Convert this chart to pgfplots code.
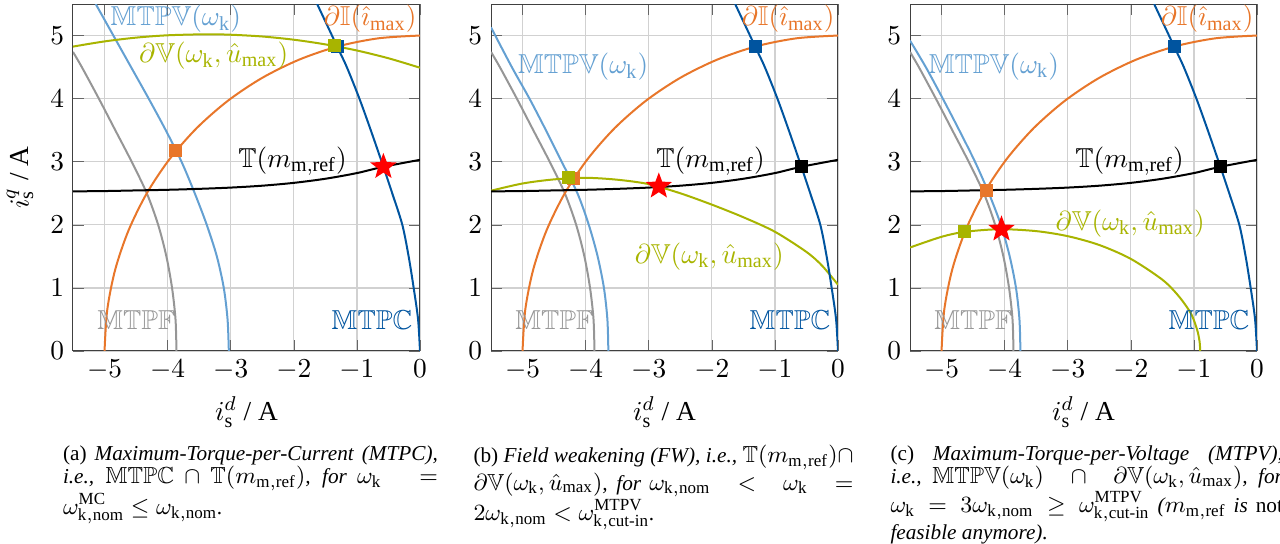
\RequirePackage{fix-cm}
\documentclass[border=0pt]{standalone}
\usepackage{fontspec}
\setmainfont{Liberation Serif}
\usepackage{amsmath,amssymb}
\usepackage{pgfplots}
\pgfplotsset{compat=1.18}
\DeclareMathSizes{8.5}{9.3}{6.8}{5.2}
\definecolor{cMTPC}{RGB}{0,84,159}
\definecolor{cMTPV}{RGB}{100,160,210}
\definecolor{cI}{RGB}{232,118,42}
\definecolor{cV}{RGB}{168,180,0}
\definecolor{cF}{RGB}{150,150,150}
\pgfdeclareplotmark{fstar}{%
 \pgfpathmoveto{\pgfpointpolar{90}{\pgfplotmarksize}}%
 \pgfpathlineto{\pgfpointpolar{126}{0.42\pgfplotmarksize}}%
 \pgfpathlineto{\pgfpointpolar{162}{\pgfplotmarksize}}%
 \pgfpathlineto{\pgfpointpolar{198}{0.42\pgfplotmarksize}}%
 \pgfpathlineto{\pgfpointpolar{234}{\pgfplotmarksize}}%
 \pgfpathlineto{\pgfpointpolar{270}{0.42\pgfplotmarksize}}%
 \pgfpathlineto{\pgfpointpolar{306}{\pgfplotmarksize}}%
 \pgfpathlineto{\pgfpointpolar{342}{0.42\pgfplotmarksize}}%
 \pgfpathlineto{\pgfpointpolar{18}{\pgfplotmarksize}}%
 \pgfpathlineto{\pgfpointpolar{54}{0.42\pgfplotmarksize}}%
 \pgfpathclose\pgfusepathqfillstroke}
\pgfplotsset{panel/.style={width=138.8pt,height=138.8pt,scale only axis,
  xmin=-5.5,xmax=0,ymin=0,ymax=5.5,xtick={-5,-4,-3,-2,-1,0},ytick={0,1,2,3,4,5},
  grid=major,grid style={black!18,line width=0.5pt},axis line style={black!75},
  tick style={black!60},clip mode=individual,
  tick label style={font=\fontsize{10.95}{13}\selectfont},
  label style={font=\fontsize{10.95}{13}\selectfont},
  every axis plot/.append style={line width=0.8pt,smooth},
  xlabel={$i_{\mathrm{s}}^{d}$ / A}},
  sq/.style={only marks,mark=square*,mark size=2.2pt,mark options={solid}},
  st/.style={only marks,mark=fstar,mark size=4.4pt,color=red}}
\tikzset{lab/.style={font=\fontsize{10.95}{13}\selectfont}}
\newcommand{\mtpc}{\addplot[cMTPC] coordinates {(0,0) (-0.03,0.5) (-0.1,1) (-0.18,1.5) (-0.28,2) (-0.44,2.5) (-0.58,2.92) (-0.78,3.5) (-0.96,4) (-1.16,4.5) (-1.31,4.82) (-1.63,5.5)};}
\newcommand{\circI}{\addplot[cI] coordinates {(-5,0) (-4.957,0.653) (-4.830,1.294) (-4.619,1.913) (-4.330,2.5) (-3.967,3.044) (-3.536,3.536) (-3.044,3.967) (-2.5,4.330) (-1.913,4.619) (-1.294,4.830) (-0.653,4.957) (0,5)};}
\newcommand{\torque}{\addplot[black] coordinates {(-5.5,2.53) (-5,2.535) (-4.5,2.545) (-4,2.555) (-3.5,2.57) (-3,2.59) (-2.5,2.62) (-2,2.665) (-1.5,2.73) (-1,2.82) (-0.58,2.92) (0,3.03)};}
\newcommand{\mtpf}{\addplot[cF] coordinates {(-3.86,0) (-3.875,0.5) (-3.93,1) (-4.02,1.5) (-4.15,2) (-4.33,2.5) (-4.57,3) (-4.83,3.5) (-5.09,4) (-5.36,4.5) (-5.5,4.74)};}
\newcommand{\labels}{%
 \node[lab,cI] at (axis cs:-0.79,5.26) {$\partial\mathbb{I}(\hat{\imath}_{\max})$};
 \node[lab,black] at (axis cs:-2.02,3.01) {$\mathbb{T}(m_{\mathrm{m,ref}})$};
 \node[lab,cF] at (axis cs:-4.5,0.49) {$\mathbb{MTPF}$};
 \node[lab,cMTPC] at (axis cs:-0.76,0.49) {$\mathbb{MTPC}$};}
\begin{document}
\begin{tikzpicture}[x=1pt,y=1pt]
\useasboundingbox (0,0) rectangle (512,-217.2);
% ---------- (a)
\begin{axis}[panel,at={(29.2pt,-1.6pt)},anchor=north west,ylabel={$i_{\mathrm{s}}^{q}$ / A}]
\mtpf
\addplot[cMTPV] coordinates {(-3.03,0) (-3.05,0.5) (-3.11,1) (-3.22,1.5) (-3.38,2) (-3.57,2.5) (-3.78,3) (-4.03,3.5) (-4.3,4) (-4.58,4.5) (-4.86,5) (-5.14,5.5)};
\circI
\addplot[cV] coordinates {(-5.5,4.825) (-5,4.907) (-4.5,4.967) (-4,5.004) (-3.4,5.02) (-3,5.013) (-2.5,4.985) (-2,4.934) (-1.5,4.86) (-1,4.763) (-0.5,4.64) (0,4.49)};
\torque
\mtpc
\addplot[sq,cI] coordinates {(-3.87,3.17)};
\addplot[sq,cMTPC] coordinates {(-1.31,4.82)};
\addplot[sq,cV] coordinates {(-1.36,4.845)};
\addplot[st] coordinates {(-0.58,2.92)};
\labels
\node[lab,cMTPV] at (axis cs:-3.87,5.26) {$\mathbb{MTPV}(\omega_{\mathrm{k}})$};
\node[lab,cV] at (axis cs:-3.27,4.68) {$\partial\mathbb{V}(\omega_{\mathrm{k}},\hat{u}_{\max})$};
\end{axis}
% ---------- (b)
\begin{axis}[panel,at={(196.4pt,-1.6pt)},anchor=north west]
\mtpf
\addplot[cMTPV] coordinates {(-3.64,0) (-3.655,0.5) (-3.71,1) (-3.81,1.5) (-3.95,2) (-4.13,2.5) (-4.38,3) (-4.63,3.5) (-4.89,4) (-5.17,4.5) (-5.5,5.13)};
\circI
\addplot[cV] coordinates {(-5.5,2.54) (-5,2.655) (-4.5,2.72) (-4,2.745) (-3.5,2.715) (-3,2.645) (-2.5,2.50) (-2,2.32) (-1.5,2.12) (-1,1.89) (-0.5,1.57) (-0.25,1.35) (0,1.05)};
\torque
\mtpc
\addplot[sq,cMTPC] coordinates {(-1.31,4.82)};
\addplot[sq,black] coordinates {(-0.58,2.92)};
\addplot[sq,cI] coordinates {(-4.19,2.74)};
\addplot[sq,cV] coordinates {(-4.27,2.745)};
\addplot[st] coordinates {(-2.84,2.61)};
\labels
\node[lab,cMTPV] at (axis cs:-4.04,4.5) {$\mathbb{MTPV}(\omega_{\mathrm{k}})$};
\node[lab,cV] at (axis cs:-2.04,1.5) {$\partial\mathbb{V}(\omega_{\mathrm{k}},\hat{u}_{\max})$};
\end{axis}
% ---------- (c)
\begin{axis}[panel,at={(364pt,-1.6pt)},anchor=north west]
\mtpf
\addplot[cMTPV] coordinates {(-3.75,0) (-3.765,0.5) (-3.82,1) (-3.92,1.5) (-4.06,2) (-4.25,2.5) (-4.47,3) (-4.72,3.5) (-4.98,4) (-5.25,4.5) (-5.5,4.92)};
\circI
\addplot[cV] coordinates {(-5.5,1.64) (-5,1.81) (-4.62,1.89) (-4.07,1.93) (-3.5,1.9) (-3,1.82) (-2.5,1.68) (-2,1.46) (-1.5,1.13) (-1.25,0.88) (-1.05,0.6) (-0.95,0.34) (-0.91,0.15) (-0.9,0)};
\torque
\mtpc
\addplot[sq,cMTPC] coordinates {(-1.31,4.82)};
\addplot[sq,black] coordinates {(-0.58,2.92)};
\addplot[sq,cI] coordinates {(-4.29,2.55)};
\addplot[sq,cV] coordinates {(-4.63,1.89)};
\addplot[st] coordinates {(-4.05,1.93)};
\labels
\node[lab,cMTPV] at (axis cs:-4.17,4.51) {$\mathbb{MTPV}(\omega_{\mathrm{k}})$};
\node[lab,cV] at (axis cs:-2.01,2.02) {$\partial\mathbb{V}(\omega_{\mathrm{k}},\hat{u}_{\max})$};
\end{axis}
% ---------- captions
\tikzset{capt/.style={anchor=north west,inner sep=0pt,text width=150pt,align=justify,font=\fontsize{8.5}{9.3}\selectfont}}
\node[capt] at (25,-178) {(a) \textit{Maximum-Torque-per-Current (MTPC),\linebreak i.e., $\mathbb{MTPC}\cap\mathbb{T}(m_{\mathrm{m,ref}})$, for $\omega_{\mathrm{k}}\;=$\linebreak $\omega_{\mathrm{k,nom}}^{\mathrm{MC}}\leq\omega_{\mathrm{k,nom}}$.}};
\node[capt,text width=152pt] at (189.2,-178) {(b) \textit{Field weakening (FW), i.e., $\mathbb{T}(m_{\mathrm{m,ref}})\cap$\linebreak $\partial\mathbb{V}(\omega_{\mathrm{k}},\hat{u}_{\max})$, for $\omega_{\mathrm{k,nom}}\;<\;\omega_{\mathrm{k}}\;=$\linebreak $2\omega_{\mathrm{k,nom}}<\omega^{\mathrm{MTPV}}_{\mathrm{k,cut}\text{-}\mathrm{in}}$.}};
\node[capt,text width=157pt] at (356,-178) {(c) \textit{Maximum-Torque-per-Voltage (MTPV),\linebreak i.e., $\mathbb{MTPV}(\omega_{\mathrm{k}})\;\cap\;\partial\mathbb{V}(\omega_{\mathrm{k}},\hat{u}_{\max})$, for\linebreak $\omega_{\mathrm{k}}=3\omega_{\mathrm{k,nom}}\geq\omega^{\mathrm{MTPV}}_{\mathrm{k,cut}\text{-}\mathrm{in}}$ ($m_{\mathrm{m,ref}}$ is \textup{not}\linebreak feasible anymore).}};
\end{tikzpicture}
\end{document}
